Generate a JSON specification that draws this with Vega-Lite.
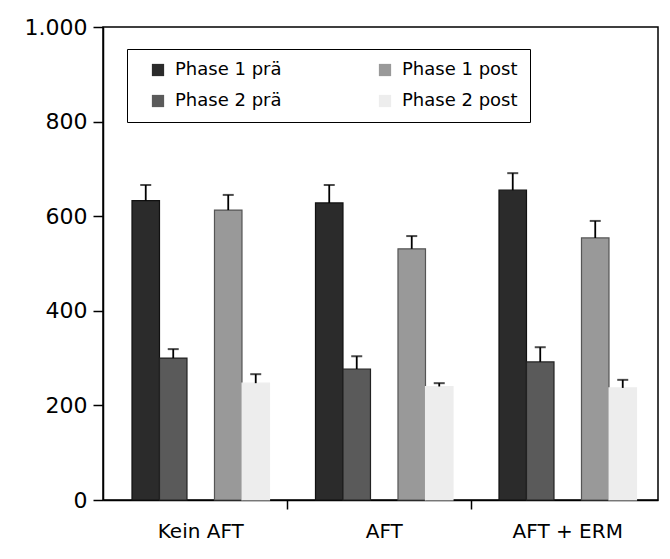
{
  "$schema": "https://vega.github.io/schema/vega-lite/v6.json",
  "width": 555,
  "height": 473,
  "autosize": {"type": "none"},
  "padding": {"left": 103, "top": 27, "right": 12, "bottom": 59},
  "background": "white",
  "data": {
    "values": [
      {"group": "Kein AFT", "phase": "Phase 1 prä", "value": 633, "err": 666},
      {"group": "Kein AFT", "phase": "Phase 2 prä", "value": 300, "err": 319},
      {"group": "Kein AFT", "phase": "Phase 1 post", "value": 613, "err": 645},
      {"group": "Kein AFT", "phase": "Phase 2 post", "value": 247, "err": 266},
      {"group": "AFT", "phase": "Phase 1 prä", "value": 628, "err": 666},
      {"group": "AFT", "phase": "Phase 2 prä", "value": 277, "err": 304},
      {"group": "AFT", "phase": "Phase 1 post", "value": 531, "err": 558},
      {"group": "AFT", "phase": "Phase 2 post", "value": 240, "err": 247},
      {"group": "AFT + ERM", "phase": "Phase 1 prä", "value": 655, "err": 691},
      {"group": "AFT + ERM", "phase": "Phase 2 prä", "value": 292, "err": 323},
      {"group": "AFT + ERM", "phase": "Phase 1 post", "value": 554, "err": 590},
      {"group": "AFT + ERM", "phase": "Phase 2 post", "value": 237, "err": 254}
    ]
  },
  "layer": [
    {
      "mark": {"type": "bar", "strokeWidth": 1.2},
      "encoding": {
        "x": {
          "field": "group", "type": "nominal", "sort": ["Kein AFT", "AFT", "AFT + ERM"],
          "scale": {"paddingInner": 0.2507, "paddingOuter": 0.1376, "align": 0.574},
          "axis": {"title": null, "orient": "bottom", "ticks": false, "labelAngle": 0, "labelFontSize": 20, "labelFont": "DejaVu Sans", "labelColor": "black", "labelPadding": 21, "domainColor": "black", "domainWidth": 1.5}
        },
        "xOffset": {
          "field": "phase", "type": "nominal",
          "scale": {"domain": ["Phase 1 prä", "Phase 2 prä", "gap", "Phase 1 post", "Phase 2 post"], "paddingInner": 0, "paddingOuter": 0}
        },
        "y": {
          "field": "value", "type": "quantitative", "title": null,
          "scale": {"domain": [0, 1000], "nice": false},
          "axis": {
            "values": [0, 200, 400, 600, 800, 1000], "grid": false, "tickSize": 10, "tickWidth": 1.5, "tickColor": "black",
            "domainColor": "black", "domainWidth": 1.5, "labelFontSize": 22, "labelFont": "DejaVu Sans", "labelColor": "black",
            "labelPadding": 6, "labelExpr": "replace(datum.label, ',', '.')", "title": null
          }
        },
        "color": {
          "field": "phase", "type": "nominal",
          "scale": {"domain": ["Phase 1 prä", "Phase 2 prä", "Phase 1 post", "Phase 2 post"], "range": ["#2b2b2b", "#5a5a5a", "#999999", "#ededed"]},
          "legend": {
            "title": null, "orient": "none", "legendX": 24, "legendY": 22, "columns": 2,
            "columnPadding": 84, "rowPadding": 13, "padding": 12, "symbolOffset": 10,
            "symbolType": "square", "symbolSize": 150, "symbolStrokeWidth": 0,
            "labelFontSize": 18, "labelFont": "DejaVu Sans", "labelColor": "black", "labelOffset": 8,
            "strokeColor": "black", "fillColor": "white"
          }
        },
        "stroke": {
          "field": "phase", "type": "nominal",
          "scale": {"domain": ["Phase 1 prä", "Phase 2 prä", "Phase 1 post", "Phase 2 post"], "range": ["#111111", "#222222", "#555555", "#ededed"]},
          "legend": null
        }
      }
    },
    {
      "mark": {"type": "rule", "color": "black", "strokeWidth": 1.8},
      "encoding": {
        "x": {
          "field": "group", "type": "nominal", "sort": ["Kein AFT", "AFT", "AFT + ERM"],
          "axis": {"title": null, "orient": "bottom", "labels": false, "domain": false, "ticks": true, "tickSize": 9, "tickWidth": 1.5, "tickColor": "black", "bandPosition": 1.1345, "values": ["Kein AFT", "AFT"], "grid": false}
        },
        "xOffset": {"field": "phase", "type": "nominal"},
        "y": {"field": "value", "type": "quantitative", "title": null},
        "y2": {"field": "err"}
      }
    },
    {
      "mark": {"type": "tick", "color": "black", "thickness": 2, "size": 11},
      "encoding": {
        "x": {"field": "group", "type": "nominal", "sort": ["Kein AFT", "AFT", "AFT + ERM"], "axis": null},
        "xOffset": {"field": "phase", "type": "nominal"},
        "y": {"field": "err", "type": "quantitative", "title": null}
      }
    }
  ],
  "resolve": {"axis": {"x": "independent"}},
  "config": {
    "view": {"stroke": "black", "strokeWidth": 1.5}
  }
}
